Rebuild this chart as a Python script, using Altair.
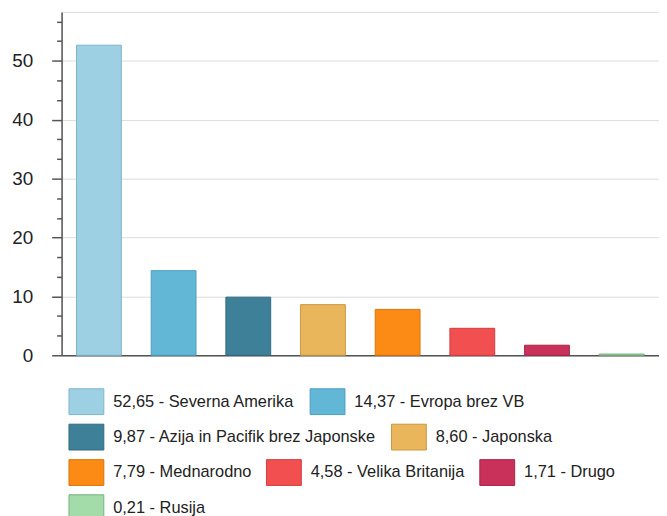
import altair as alt
import pandas as pd

regions = ["Severna Amerika", "Evropa brez VB", "Azija in Pacifik brez Japonske",
           "Japonska", "Mednarodno", "Velika Britanija", "Drugo", "Rusija"]
values = [52.65, 14.37, 9.87, 8.60, 7.79, 4.58, 1.71, 0.21]
value_text = ["52,65", "14,37", "9,87", "8,60", "7,79", "4,58", "1,71", "0,21"]
fill_colors = ["#9ed0e4", "#63b7d6", "#3f8099", "#eab65b", "#fb8b14",
               "#f24f51", "#c9315b", "#a3dca9"]
stroke_colors = ["#7fb4ca", "#4c9dbd", "#2f6a82", "#c9983f", "#d9740a",
                 "#d23c3d", "#a82448", "#78b07f"]
y_ticks = [round(i * 10 / 3, 4) for i in range(18)]

legend_labels = [f"{t} - {r}" for t, r in zip(value_text, regions)]
df = pd.DataFrame({"region": regions, "value": values, "label": legend_labels})

is_major = "abs(datum.value % 10) < 0.001"
row_step = 35.7

# legend rows as in the reference (flowing entries)
groups = [[0, 1], [2, 3], [4, 5, 6], [7]]

base = alt.Chart(df)
layers = []
for r, g in enumerate(groups):
    dom = [legend_labels[i] for i in g]
    legend = alt.Legend(
        title=None,
        orient="none",
        direction="horizontal",
        legendX=11.5,
        legendY=379 + r * row_step,
        columns=len(g),
        columnPadding=12,
        padding=0,
        symbolType="M-1.35,-1L1.35,-1L1.35,1L-1.35,1Z",
        symbolSize=676,
        symbolStrokeWidth=1,
        labelOffset=13.5,
        labelFont="Liberation Sans",
        labelFontSize=16.5,
        labelColor="#222222",
        labelLimit=400,
    )
    layer = base.transform_filter(
        alt.FieldOneOfPredicate(field="label", oneOf=dom)
    ).mark_bar(strokeWidth=1).encode(
        x=alt.X("label:N",
                scale=alt.Scale(domain=legend_labels, paddingInner=0.4, paddingOuter=0.2),
                axis=alt.Axis(labels=False, ticks=False, title=None, grid=False,
                              domainColor="#555555", domainWidth=1.5)),
        y=alt.Y("value:Q",
                scale=alt.Scale(domain=[0, 58.3], nice=False, zero=True),
                axis=alt.Axis(values=y_ticks, title=None,
                              labelExpr=f"{is_major} ? datum.label : ''",
                              labelFont="Liberation Sans", labelFontSize=19,
                              labelColor="#222222", labelPadding=19,
                              tickSize={"condition": {"test": is_major, "value": 10}, "value": 5},
                              tickColor="#555555", tickWidth=1.5,
                              domainColor="#555555", domainWidth=1.5,
                              grid=True, gridColor="#dddddd", gridWidth=1,
                              gridOpacity={"condition": {"test": is_major, "value": 1}, "value": 0})),
        fill=alt.Fill("label:N",
                      scale=alt.Scale(domain=dom, range=[fill_colors[i] for i in g]),
                      legend=legend),
        stroke=alt.Stroke("label:N",
                          scale=alt.Scale(domain=dom, range=[stroke_colors[i] for i in g]),
                          legend=legend),
    )
    layers.append(layer)

chart = alt.layer(*layers).resolve_scale(
    fill="independent", stroke="independent"
).resolve_legend(
    fill="independent", stroke="independent"
).properties(
    width=602,
    height=346,
    autosize=alt.AutoSizeParams(type="none"),
    padding={"left": 54, "top": 2, "right": 0, "bottom": 160},
).configure_view(
    fill="#f8f8f8", stroke="#d2d2d2", strokeWidth=1.5
).configure(background="white")

chart.save("out.html", embed_options={"renderer": "svg", "actions": False})
